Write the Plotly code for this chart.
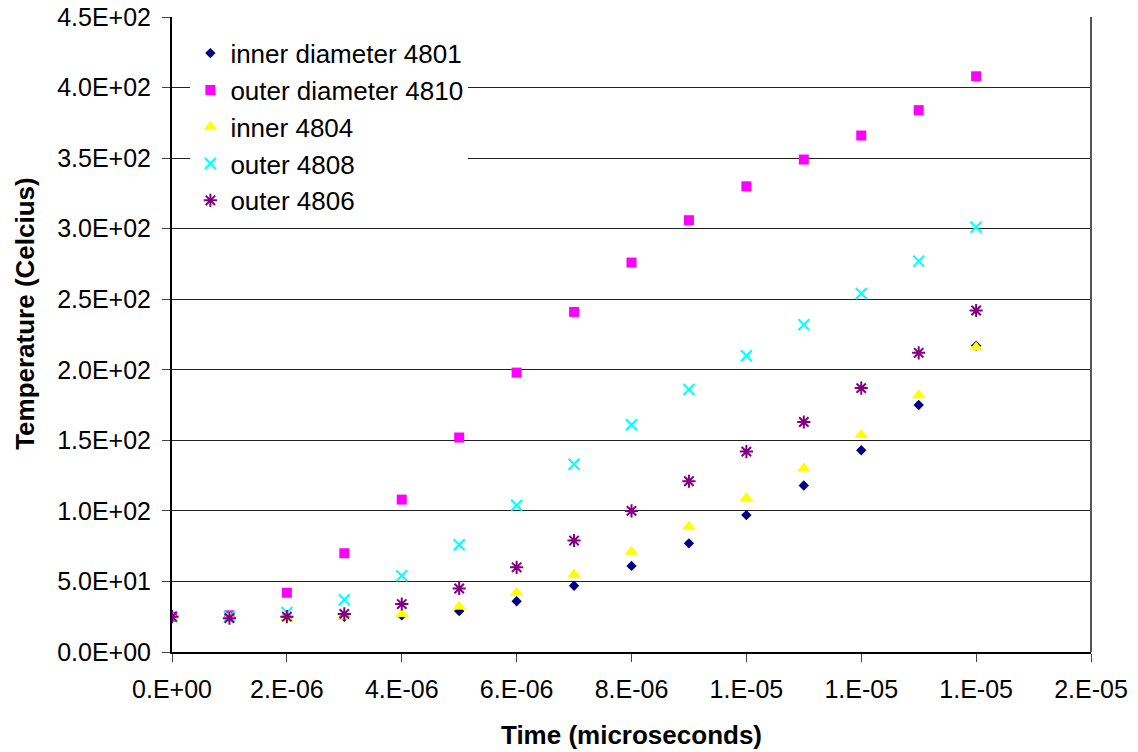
import plotly.graph_objects as go

# ---- data ----
time_s = [0.0, 1e-6, 2e-6, 3e-6, 4e-6, 5e-6, 6e-6, 7e-6, 8e-6, 9e-6,
          1.0e-5, 1.1e-5, 1.2e-5, 1.3e-5, 1.4e-5]
inner_diameter_4801 = [25, 25, 25, 25, 26, 29, 36, 47, 61, 77, 97, 118, 143, 175, 217]
outer_diameter_4810 = [25, 26, 42, 70, 108, 152, 198, 241, 276, 306, 330, 349, 366, 384, 408]
inner_4804 = [25, 25, 24, 25, 27, 32, 42, 55, 71, 89, 109, 130, 154, 182, 216]
outer_4808 = [25, 25, 28, 37, 54, 76, 104, 133, 161, 186, 210, 232, 254, 277, 301]
outer_4806 = [25, 24, 25, 27, 34, 45, 60, 79, 100, 121, 142, 163, 187, 212, 242]

x_tickvals = [0, 2e-6, 4e-6, 6e-6, 8e-6, 1.0e-5, 1.2e-5, 1.4e-5, 1.6e-5]
x_ticktext = ["0.E+00", "2.E-06", "4.E-06", "6.E-06", "8.E-06",
              "1.E-05", "1.E-05", "1.E-05", "2.E-05"]
y_tickvals = [0, 50, 100, 150, 200, 250, 300, 350, 400, 450]
y_ticktext = ["0.0E+00", "5.0E+01", "1.0E+02", "1.5E+02", "2.0E+02",
              "2.5E+02", "3.0E+02", "3.5E+02", "4.0E+02", "4.5E+02"]

FONT = "Liberation Sans, Arial, sans-serif"

fig = go.Figure()
fig.add_trace(go.Scatter(x=time_s, y=inner_diameter_4801, mode="markers",
                         name="inner diameter 4801",
                         marker=dict(symbol="diamond", size=8, color="#000080")))
fig.add_trace(go.Scatter(x=time_s, y=outer_diameter_4810, mode="markers",
                         name="outer diameter 4810",
                         marker=dict(symbol="square", size=10, color="#FF00FF")))
fig.add_trace(go.Scatter(x=time_s, y=inner_4804, mode="markers",
                         name="inner 4804",
                         marker=dict(symbol="triangle-up", size=12, color="#FFFF00")))
fig.add_trace(go.Scatter(x=time_s, y=outer_4808, mode="markers",
                         name="outer 4808",
                         marker=dict(symbol="x-thin-open", size=11,
                                     color="#00FFFF", line=dict(width=2, color="#00FFFF"))))
fig.add_trace(go.Scatter(x=time_s, y=outer_4806, mode="markers",
                         name="outer 4806",
                         marker=dict(symbol="asterisk-open", size=11,
                                     color="#800080", line=dict(width=2, color="#800080"))))

fig.update_layout(
    width=1138, height=752,
    margin=dict(l=172, r=47, t=17, b=100, autoexpand=False),
    paper_bgcolor="white", plot_bgcolor="white",
    font=dict(family=FONT, size=25, color="black"),
    showlegend=True,
    legend=dict(x=0.02, y=0.98, xanchor="left", yanchor="top",
                bgcolor="white", borderwidth=0,
                font=dict(family=FONT, size=26, color="black"),
                itemsizing="trace"),
)
fig.update_xaxes(
    range=[0, 1.6e-5], tickvals=x_tickvals, ticktext=x_ticktext,
    automargin=False,
    showgrid=False, zeroline=False,
    showline=True, linecolor="black", linewidth=2, mirror=False,
    ticks="outside", ticklen=8, tickcolor="#444", tickwidth=1,
    ticklabelstandoff=6,
    tickfont=dict(family=FONT, size=25, color="black"),
    title=dict(text="<b>Time (microseconds)</b>", standoff=24,
               font=dict(family=FONT, size=26, color="black")),
)
fig.update_yaxes(
    range=[0, 450], tickvals=y_tickvals, ticktext=y_ticktext,
    automargin=False,
    showgrid=True, gridcolor="#222", gridwidth=1, zeroline=False,
    showline=True, linecolor="black", linewidth=2, mirror=False,
    ticks="outside", ticklen=8, tickcolor="#444", tickwidth=1,
    ticklabelstandoff=6,
    tickfont=dict(family=FONT, size=25, color="black"),
)
# y-axis title placed as in the reference (slightly above plot centre)
fig.add_annotation(text="<b>Temperature (Celcius)</b>", textangle=-90,
                   xref="paper", yref="paper", x=-0.16, y=0.534,
                   xanchor="center", yanchor="middle", showarrow=False,
                   font=dict(family=FONT, size=26, color="black"))
# right border of plot area
fig.add_shape(type="line", xref="paper", yref="paper", x0=1, x1=1, y0=0, y1=1,
              line=dict(color="#555", width=2))

fig.write_html("out.html")
